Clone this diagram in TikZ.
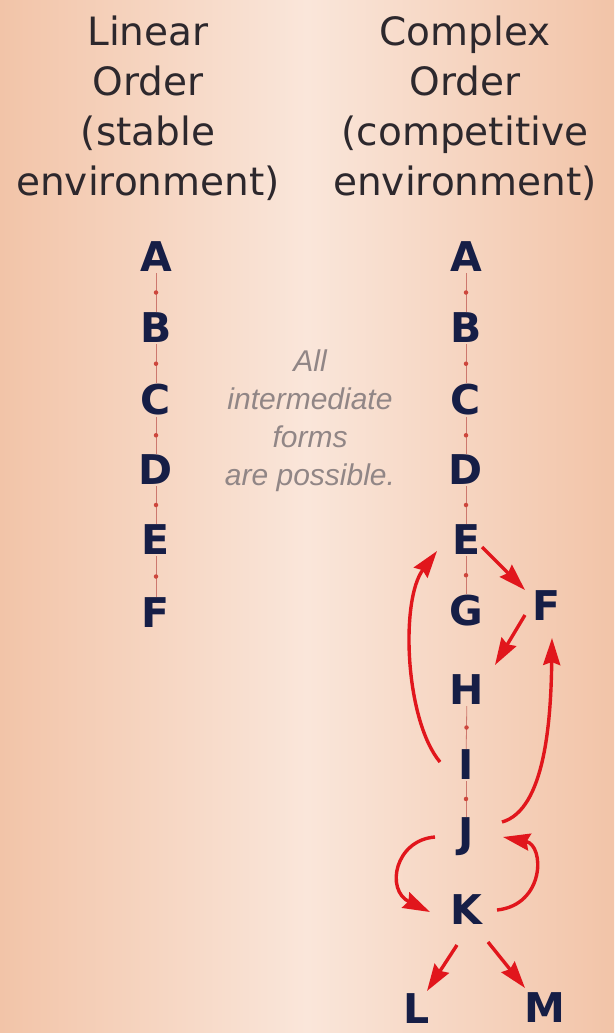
\documentclass[tikz,border=0pt]{standalone}
\usepackage{fontspec}
\usetikzlibrary{arrows.meta,calc}
\newfontfamily\headfont{DejaVu Sans}
\newfontfamily\midfont{Liberation Sans}
\definecolor{bgedge}{RGB}{242,196,168}
\definecolor{bgmid}{RGB}{250,230,218}
\definecolor{navy}{RGB}{22,30,70}
\definecolor{headgray}{RGB}{45,40,45}
\definecolor{midgray}{RGB}{145,134,134}
\definecolor{arrred}{RGB}{225,22,28}
\definecolor{linkred}{RGB}{205,120,110}
\definecolor{dotred}{RGB}{205,70,60}
\begin{document}
\begin{tikzpicture}[x=1pt,y=-1pt,
 letter/.style={font=\headfont\bfseries\fontsize{41}{41}\selectfont, text=navy, inner sep=1pt},
 head/.style={font=\headfont\fontsize{39}{50}\selectfont, text=headgray, align=center, inner sep=0pt},
 mid/.style={font=\midfont\itshape\fontsize{30}{38}\selectfont, text=midgray, align=center, inner sep=0pt},
 link/.style={draw=linkred, line width=0.8pt},
 dotmark/.style={circle, fill=dotred, inner sep=0pt, minimum size=4.5pt},
 redarr/.style={draw=arrred, line width=3.4pt, -{Stealth[length=27pt,width=17pt,inset=3pt]}}
]
\useasboundingbox (0,0) rectangle (614,1033);
\fill[left color=bgedge, right color=bgedge, middle color=bgmid] (0,0) rectangle (614,1033);

\node[head] (hl) at (148,108) {Linear\\Order\\(stable\\environment)};
\node[head] (hr) at (465,108) {Complex\\Order\\(competitive\\environment)};
\node[mid] (note) at (310,421) {All\\intermediate\\forms\\are possible.};

% left column
\node[letter] (lA) at (156,257) {A};
\node[letter] (lB) at (156,328) {B};
\node[letter] (lC) at (156,400) {C};
\node[letter] (lD) at (156,470) {D};
\node[letter] (lE) at (156,540) {E};
\node[letter] (lF) at (156,613) {F};

% right column
\node[letter] (rA) at (466,257) {A};
\node[letter] (rB) at (466,328) {B};
\node[letter] (rC) at (466,400) {C};
\node[letter] (rD) at (466,470) {D};
\node[letter] (rE) at (466,540) {E};
\node[letter] (rG) at (466,611) {G};
\node[letter] (rF) at (546,606) {F};
\node[letter] (rH) at (467,690) {H};
\node[letter] (rI) at (466,765) {I};
\node[letter] (rJ) at (466,837) {J};
\node[letter] (rK) at (466,910) {K};
\node[letter] (rL) at (417,1009) {L};
\node[letter] (rM) at (545,1008) {M};

% thin links
\draw[link] (lA) -- (lB) node[dotmark, midway] (dl1) {};
\draw[link] (lB) -- (lC) node[dotmark, midway] (dl2) {};
\draw[link] (lC) -- (lD) node[dotmark, midway] (dl3) {};
\draw[link] (lD) -- (lE) node[dotmark, midway] (dl4) {};
\draw[link] (lE) -- (lF) node[dotmark, midway] (dl5) {};
\draw[link] (rA) -- (rB) node[dotmark, midway] (dr1) {};
\draw[link] (rB) -- (rC) node[dotmark, midway] (dr2) {};
\draw[link] (rC) -- (rD) node[dotmark, midway] (dr3) {};
\draw[link] (rD) -- (rE) node[dotmark, midway] (dr4) {};
\draw[link] (rE) -- (rG) node[dotmark, midway] (dr5) {};
\draw[link] (rH) -- (rI) node[dotmark, midway] (dr6) {};
\draw[link] (rI) -- (rJ) node[dotmark, midway] (dr7) {};

% red arrows
\draw[redarr] ([shift={(16,7)}]rE.center) -- ([shift={(-21,-16)}]rF.center);
\draw[redarr] ([shift={(-21,9)}]rF.center) -- ([shift={(28,-25)}]rH.center);
\draw[redarr] ([shift={(-26,-3)}]rI.center) .. controls +(-35,-42) and +(-37,49) .. ([shift={(-29,11)}]rE.center);
\draw[redarr] ([shift={(36,-15)}]rJ.center) .. controls +(43,-12) and +(-1,82) .. ([shift={(6,32)}]rF.center);
\draw[redarr] ([shift={(-31,0)}]rJ.center) .. controls +(-40,3) and +(-45,-22) .. ([shift={(-36,2)}]rK.center);
\draw[redarr] ([shift={(31,0)}]rK.center) .. controls +(48,-5) and +(42,8) .. ([shift={(37,0)}]rJ.center);
\draw[redarr] ([shift={(-9,35)}]rK.center) -- ([shift={(10,-18)}]rL.center);
\draw[redarr] ([shift={(22,32)}]rK.center) -- ([shift={(-20,-20)}]rM.center);
\end{tikzpicture}
\end{document}
